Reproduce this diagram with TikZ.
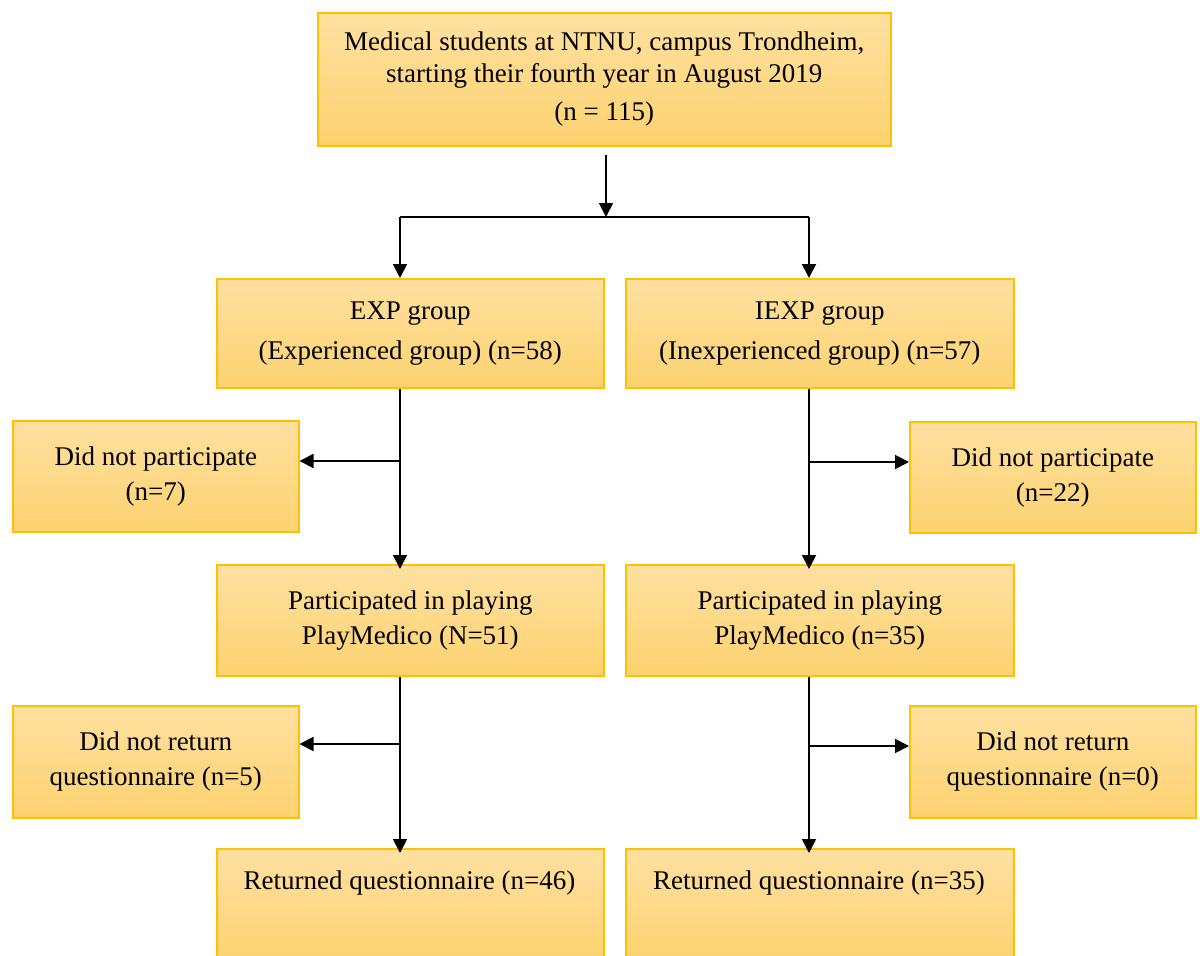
\documentclass[tikz,border=0pt]{standalone}
\usepackage{fontspec}
\setmainfont{Liberation Serif}
\usetikzlibrary{arrows.meta}
\definecolor{boxtop}{RGB}{254,224,160}
\definecolor{boxbot}{RGB}{253,210,112}
\definecolor{boxline}{RGB}{255,192,0}
\begin{document}
\begin{tikzpicture}[x=1pt,y=-1pt,
  box/.style={draw=boxline, line width=1.5pt, top color=boxtop, bottom color=boxbot,
    inner sep=0pt, align=center, anchor=north west, font=\fontsize{27}{33}\selectfont},
  lbl/.style={inner sep=0pt, align=center, font=\fontsize{27}{33}\selectfont},
  conn/.style={line width=1.8pt, black},
  arr/.style={conn, -{Triangle[width=14pt,length=14pt]}}]
\useasboundingbox (0,0) rectangle (1200,956);
% boxes
\node[box, minimum width=573pt, minimum height=133pt] (top) at (317,12)
  {Medical students at NTNU, campus Trondheim,\\[-1pt] starting their fourth year in August 2019\\[5pt] (n = 115)};
\node[box, minimum width=387pt, minimum height=109pt] (exp) at (216,278)
  {EXP group\\[7pt] (Experienced group) (n=58)};
\node[box, minimum width=388pt, minimum height=109pt] (iexp) at (625,278)
  {IEXP group\\[7pt] (Inexperienced group) (n=57)};
\node[box, minimum width=286pt, minimum height=111pt] (dnpL) at (12,420)
  {Did not participate\\[2pt] (n=7)};
\node[box, minimum width=286pt, minimum height=111pt] (dnpR) at (909,421)
  {Did not participate\\[2pt] (n=22)};
\node[box, minimum width=387pt, minimum height=111pt] (partL) at (216,564)
  {Participated in playing\\[2pt] PlayMedico (N=51)};
\node[box, minimum width=388pt, minimum height=111pt] (partR) at (625,564)
  {Participated in playing\\[2pt] PlayMedico (n=35)};
\node[box, minimum width=286pt, minimum height=112pt] (dnrL) at (12,705)
  {Did not return\\[2pt] questionnaire (n=5)};
\node[box, minimum width=286pt, minimum height=112pt] (dnrR) at (909,705)
  {Did not return\\[2pt] questionnaire (n=0)};
\node[box, minimum width=387pt, minimum height=116pt] (retL) at (216,848) {};
\node[box, minimum width=388pt, minimum height=116pt] (retR) at (625,848) {};
\node[lbl] (retLt) at (409.5,883) {Returned questionnaire (n=46)};
\node[lbl] (retRt) at (819,883) {Returned questionnaire (n=35)};
% connectors
\coordinate (c0) at (606,155);
\coordinate (c1) at (606,217);
\coordinate (hl) at (400,217);
\coordinate (hr) at (809,217);
\draw[arr] (c0) -- (c1);
\draw[conn] (hl) -- (hr);
\draw[arr] (hl) -- (exp.north -| hl);
\draw[arr] (hr) -- (iexp.north -| hr);
% left column
\coordinate (bL1) at (400,461);
\coordinate (bL2) at (400,744);
\draw[arr] (exp.south -| hl) -- ([yshift=-5pt]partL.north -| hl);
\draw[arr] (bL1) -- (dnpL.east |- bL1);
\draw[arr] (partL.south -| hl) -- ([yshift=-5pt]retL.north -| hl);
\draw[arr] (bL2) -- (dnrL.east |- bL2);
% right column
\coordinate (bR1) at (809,462);
\coordinate (bR2) at (809,746);
\draw[arr] (iexp.south -| hr) -- ([yshift=-5pt]partR.north -| hr);
\draw[arr] (bR1) -- (dnpR.west |- bR1);
\draw[arr] (partR.south -| hr) -- ([yshift=-5pt]retR.north -| hr);
\draw[arr] (bR2) -- (dnrR.west |- bR2);
\end{tikzpicture}
\end{document}
